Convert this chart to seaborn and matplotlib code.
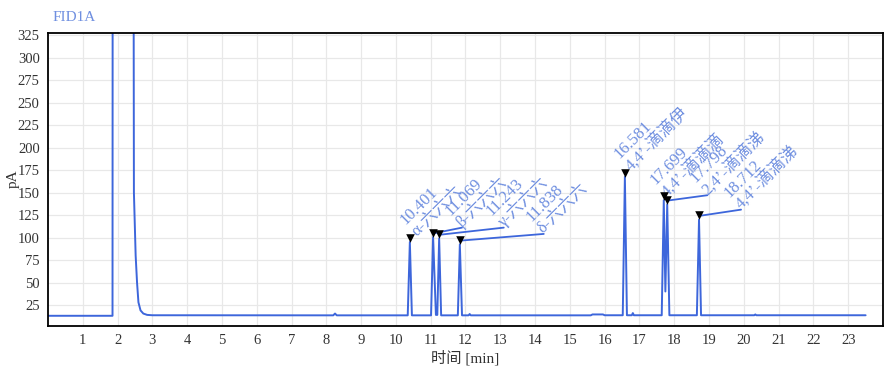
import matplotlib
matplotlib.use('Agg')
import matplotlib.pyplot as plt
import matplotlib.transforms as mtransforms
import seaborn as sns
import pandas as pd

# Chromatogram trace (time in min, signal in pA)
time = [0.0, 1.855, 1.865, 2.44, 2.47, 2.52, 2.56, 2.60, 2.66, 2.74, 2.85, 3.0,
        8.20, 8.25, 8.30,
        10.34, 10.401, 10.46,
        11.01, 11.069, 11.15, 11.19, 11.243, 11.30,
        11.78, 11.838, 11.90,
        12.09, 12.12, 12.15,
        15.60, 15.65, 15.95, 16.00,
        16.52, 16.581, 16.64,
        16.78, 16.81, 16.84,
        17.64, 17.699, 17.745, 17.798, 17.86,
        18.65, 18.712, 18.77,
        20.30, 20.33, 20.36, 23.5]
signal = [13.0, 13.0, 1000, 1000, 150, 80, 50, 28, 19, 15.5, 14.0, 13.6,
          13.5, 15.5, 13.5,
          13.5, 95, 13.5,
          13.5, 100.5, 14, 14, 99, 13.5,
          13.5, 92.5, 13.5,
          13.5, 15, 13.5,
          13.5, 14.5, 14.5, 13.6,
          13.6, 167.5, 13.6,
          13.6, 16, 13.6,
          13.6, 141.5, 40, 137, 13.6,
          13.6, 120, 13.6,
          13.6, 14.5, 13.6, 13.6]

# Integrated peaks
peak_rt = [10.401, 11.069, 11.243, 11.838, 16.581, 17.699, 17.798, 18.712]
peak_height = [95, 100.5, 99, 92.5, 167.5, 141.5, 137, 120]
peak_name = ['α-六六六', 'β-六六六', 'γ-六六六', 'δ-六六六',
             '4,4’-滴滴伊', '4,4’-滴滴滴', '2,4’-滴滴涕', '4,4’-滴滴涕']
label_x = [10.62, 11.90, 13.10, 14.25, 16.76, 17.80, 18.95, 19.92]
label_y = [101, 111, 111, 104, 174, 145, 147, 131]
has_leader = [False, True, True, True, False, False, True, True]

trace_color = '#3d66db'
label_color = '#6f8fe0'

sns.set_theme(style='whitegrid')
plt.rcParams['font.family'] = ['Liberation Serif', 'Noto Sans CJK SC']
plt.rcParams['grid.color'] = '#e8e8e8'
plt.rcParams['grid.linewidth'] = 0.9

fig = plt.figure(figsize=(8.95, 3.72), dpi=100)
ax = fig.add_axes([0.0536, 0.1245, 0.9330, 0.786])

trace = pd.DataFrame({'time': time, 'signal': signal})
sns.lineplot(data=trace, x='time', y='signal', sort=False, color=trace_color,
             lw=1.4, ax=ax)

# peak markers sit with their tip on the apex
marker_tr = mtransforms.offset_copy(ax.transData, fig=fig, x=0, y=3, units='points')
peaks = pd.DataFrame({'rt': peak_rt, 'h': peak_height})
sns.scatterplot(data=peaks, x='rt', y='h', marker='v', color='black', s=38,
                edgecolor='black', linewidth=0, transform=marker_tr, ax=ax, zorder=5)

# first label line (retention time) sits one line up-left of the name line
rt_tr = mtransforms.offset_copy(ax.transData, fig=fig, x=-8.5, y=8.5, units='points')
for rt, h, name, lx, ly, lead in zip(peak_rt, peak_height, peak_name,
                                     label_x, label_y, has_leader):
    if lead:
        ax.plot([rt, lx], [h + 4, ly], color=trace_color, lw=1.3)
    ax.text(lx, ly, name, rotation=45, rotation_mode='anchor',
            ha='left', va='baseline', color=label_color, fontsize=12)
    ax.text(lx, ly, f'{rt:.3f}', rotation=45, rotation_mode='anchor',
            ha='left', va='baseline', color=label_color, fontsize=12,
            transform=rt_tr)

ax.set_xlim(0, 24)
ax.set_ylim(2, 327)
ax.set_xticks(range(1, 24))
ax.set_yticks(range(25, 326, 25))
ax.tick_params(direction='out', length=4, width=1, color='black',
               labelsize=10.5, pad=2, labelcolor='#333333')
for side in ['left', 'bottom', 'top', 'right']:
    ax.spines[side].set_color('black')
    ax.spines[side].set_linewidth(1.3)
ax.set_xlabel('时间 [min]', fontsize=11, labelpad=2, color='#333333')
ax.set_ylabel('')
fig.text(0.015, 0.52, 'pA', rotation=90, ha='center', va='center',
         fontsize=11, color='#333333')
fig.text(53 / 895, 0.953, 'FID1A', ha='left', va='center', fontsize=11,
         color=label_color)

fig.savefig('out.png', dpi=100)
